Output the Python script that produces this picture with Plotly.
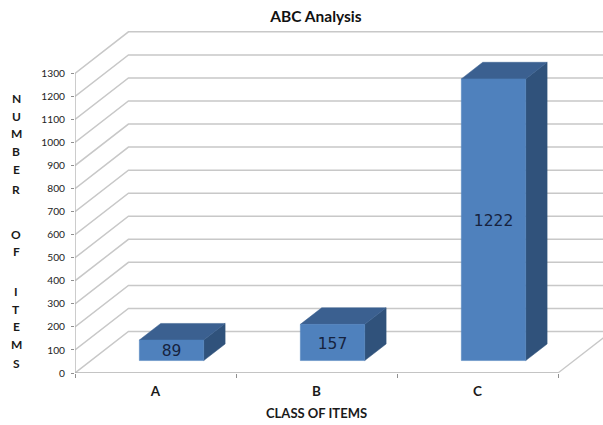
import plotly.graph_objects as go

# Chart values
categories = ["A", "B", "C"]
items = [89, 157, 1222]
value_ticks = list(range(0, 1400, 100))
axis_top = 1300

# Oblique projection of the depth axis onto the page
SKEW_X = 0.332   # category units per unit of depth
SKEW_Y = 180     # value units per unit of depth
BAR_WIDTH = 0.4
BAR_NEAR, BAR_FAR = 0.3, 0.7
LABEL_DROP = 10  # optical centring of the value labels, in value units

FRONT = "#4f81bd"
TOP = "#3b6090"
SIDE = "#30527b"
GRID = "#c8c8c8"
AXIS = "#b0b0b0"
FONT = "Lato"
INK = "#1a1a1a"


def project(x, y, z):
    return x + z * SKEW_X, y + z * SKEW_Y


def polygon(points):
    pts = [project(*p) for p in points] + [project(*points[0])]
    return [p[0] for p in pts], [p[1] for p in pts]


fig = go.Figure()


def add_line(points, color, width):
    xs, ys = zip(*[project(*p) for p in points])
    fig.add_trace(go.Scatter(x=xs, y=ys, mode="lines", line=dict(color=color, width=width),
                             hoverinfo="skip", showlegend=False, cliponaxis=False))


def add_face(points, color):
    xs, ys = polygon(points)
    fig.add_trace(go.Scatter(x=xs, y=ys, mode="lines", fill="toself", fillcolor=color,
                             line=dict(color=color, width=0.5), hoverinfo="skip",
                             showlegend=False, cliponaxis=False))


n = len(categories)

# Side wall and back wall gridlines
for v in value_ticks:
    add_line([(0, v, 0), (0, v, 1), (n, v, 1)], GRID, 1.5)

# Floor front edge, right edge and value axis
add_line([(0, 0, 0), (n, 0, 0)], AXIS, 1.3)
add_line([(n, 0, 0), (n, 0, 1)], GRID, 1.3)
add_line([(0, 0, 0), (0, axis_top, 0)], AXIS, 1.3)

# One box per class: side, top and front faces
for i, v in enumerate(items):
    x0, x1 = i + 0.5 - BAR_WIDTH / 2, i + 0.5 + BAR_WIDTH / 2
    add_face([(x1, 0, BAR_NEAR), (x1, 0, BAR_FAR), (x1, v, BAR_FAR), (x1, v, BAR_NEAR)], SIDE)
    add_face([(x0, v, BAR_NEAR), (x1, v, BAR_NEAR), (x1, v, BAR_FAR), (x0, v, BAR_FAR)], TOP)
    add_face([(x0, 0, BAR_NEAR), (x1, 0, BAR_NEAR), (x1, v, BAR_NEAR), (x0, v, BAR_NEAR)], FRONT)

# Value labels centred on the front faces
label_pos = [project(i + 0.5, v / 2 - LABEL_DROP, BAR_NEAR) for i, v in enumerate(items)]
fig.add_trace(go.Scatter(
    x=[p[0] for p in label_pos], y=[p[1] for p in label_pos],
    mode="text", text=[str(v) for v in items], textposition="middle center",
    textfont=dict(family="DejaVu Sans", size=15.5, color="#16233f"),
    hoverinfo="skip", showlegend=False, cliponaxis=False))

PLOT_LEFT, PLOT_TOP, PLOT_BOTTOM = 75, 20, 52.3
WIDTH, HEIGHT = 603, 425


def paper_x(px):
    return (px - PLOT_LEFT) / (WIDTH - PLOT_LEFT)


def paper_y(px):
    return (HEIGHT - PLOT_BOTTOM - px) / (HEIGHT - PLOT_BOTTOM - PLOT_TOP)


# Vertically stacked value-axis caption, one letter per annotation
caption_letters = list("NUMBEROFITEMS")
caption_rows = [98, 116, 133, 151, 169, 189, 234, 251, 291, 309, 326, 344, 363]
annotations = [
    dict(text=letter, xref="paper", yref="paper", showarrow=False,
         x=paper_x(16), y=paper_y(row), xanchor="center", yanchor="middle",
         font=dict(family=FONT, size=12, color=INK, weight="bold"))
    for letter, row in zip(caption_letters, caption_rows)
]

# Category-axis caption, centred on the whole chart area
annotations.append(dict(text="CLASS OF ITEMS", xref="paper", yref="paper", showarrow=False,
                        x=paper_x(316), y=paper_y(413), xanchor="center", yanchor="middle",
                        font=dict(family=FONT, size=13, color=INK, weight="bold")))

fig.update_layout(
    width=WIDTH, height=HEIGHT, autosize=False,
    margin=dict(l=PLOT_LEFT, r=0, t=PLOT_TOP, b=PLOT_BOTTOM, autoexpand=False),
    paper_bgcolor="white", plot_bgcolor="white",
    showlegend=False,
    title=dict(text="ABC Analysis", x=316 / WIDTH, xanchor="center", xref="container",
               y=1 - 17 / HEIGHT, yanchor="middle", yref="container",
               font=dict(family=FONT, size=15.5, color="#111111", weight="bold")),
    annotations=annotations,
    xaxis=dict(range=[0, (WIDTH - PLOT_LEFT) / 161], showgrid=False, zeroline=False,
               showline=False, tickmode="array",
               tickvals=[i + 0.5 for i in range(n)], ticktext=categories, ticks="",
               ticklabelstandoff=8,
               tickfont=dict(family=FONT, size=13.5, color=INK, weight="bold"),
               minor=dict(tickmode="array", tickvals=list(range(n + 1)), ticks="outside",
                          ticklen=4, tickwidth=1, tickcolor="#909090", showgrid=False),
               automargin=False),
    yaxis=dict(range=[0, 352.7 / 0.2303], showgrid=False, zeroline=False, showline=False,
               tickmode="array", tickvals=value_ticks, ticks="outside", ticklen=3,
               tickwidth=1, tickcolor="#909090", ticklabelstandoff=4,
               tickfont=dict(family=FONT, size=10.2, color="#222222"), automargin=False),
)

fig.write_html("out.html")
